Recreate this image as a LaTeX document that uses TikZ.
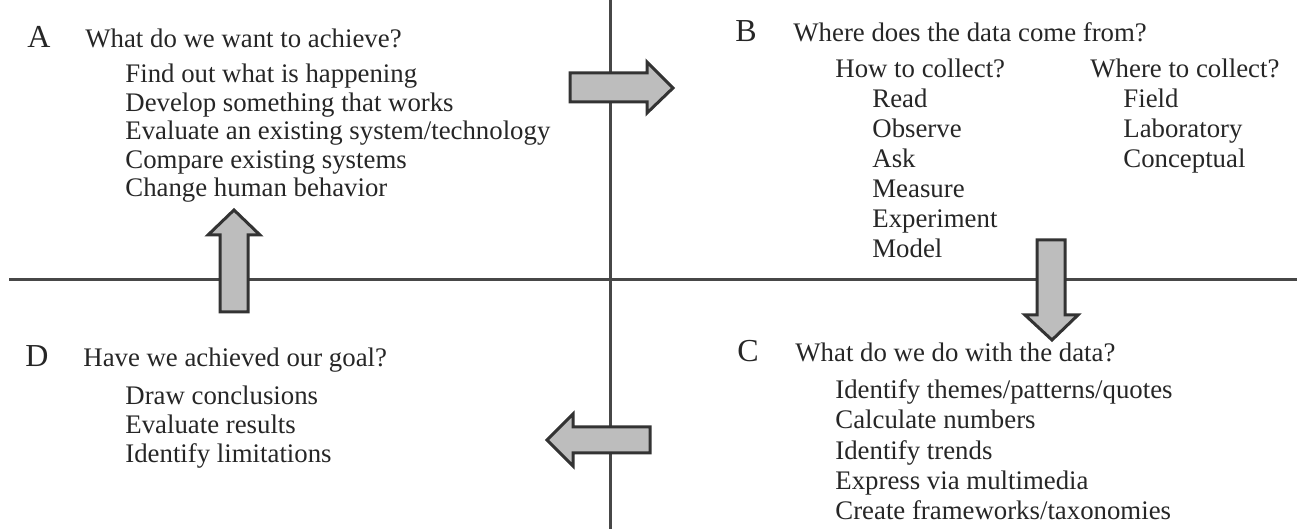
\documentclass[tikz,border=0pt]{standalone}
\usepackage{fontspec}
\setmainfont{Liberation Serif}
\usetikzlibrary{positioning}
\tikzset{marke/.style={anchor=base west, inner sep=0, font=\fontsize{16}{16}\selectfont},
	frage/.style={anchor=base west, inner sep=0, font=\fontsize{13.4}{14}\selectfont},
	punkt/.style={anchor=base west, inner sep=0, font=\fontsize{13.4}{14}\selectfont},
	achse/.style={line width=1.5pt, draw=black!72},
	pfeil/.style={line width=1.5pt, draw=black!80, fill=gray!52, line join=miter} }

\begin{document}
\begin{tikzpicture}[x=0.5pt, y=-0.5pt, text=black!85]
  \useasboundingbox (0,0) rectangle (1297,529);

  % Achsen
  \coordinate (oben) at (610,0);
  \coordinate (unten) at (610,529);
  \coordinate (links) at (9,280);
  \coordinate (rechts) at (1297,280);
  \draw [achse] (oben) -- (unten);
  \draw [achse] (links) -- (rechts);

  % Pfeile zwischen den Feldern
  \draw [pfeil] (570,73) -- (647,73) -- (647,62) -- (673,88) -- (647,113) -- (647,102) -- (570,102) -- cycle;
  \draw [pfeil] (1037,240) -- (1065,240) -- (1065,315) -- (1078,315) -- (1052,340) -- (1025,315) -- (1037,315) -- cycle;
  \draw [pfeil] (650,427) -- (573,427) -- (573,414) -- (547,440) -- (573,466) -- (573,453) -- (650,453) -- cycle;
  \draw [pfeil] (220,312) -- (220,235) -- (208,235) -- (234,210) -- (260,235) -- (248,235) -- (248,312) -- cycle;

  % A
  \node (A) [marke] at (27,48) {A};
  \node (fa) [frage] at (85,48) {What do we want to achieve?};
  \node (a1) [punkt, below right=17.5pt and 20pt of fa.base west, anchor=base west] {Find out what is happening};
  \node (a2) [punkt, below=14.25pt of a1.base west, anchor=base west] {Develop something that works};
  \node (a3) [punkt, below=14.25pt of a2.base west, anchor=base west] {Evaluate an existing system/technology};
  \node (a4) [punkt, below=14.25pt of a3.base west, anchor=base west] {Compare existing systems};
  \node (a5) [punkt, below=14.25pt of a4.base west, anchor=base west] {Change human behavior};

  % B
  \node (B) [marke] at (735,42) {B};
  \node (fb) [frage] at (793,42) {Where does the data come from?};
  \node (wie) [punkt, below right=18pt and 21pt of fb.base west, anchor=base west] {How to collect?};
  \node (b1) [punkt, below right=15pt and 18.5pt of wie.base west, anchor=base west] {Read};
  \node (b2) [punkt, below=15pt of b1.base west, anchor=base west] {Observe};
  \node (b3) [punkt, below=15pt of b2.base west, anchor=base west] {Ask};
  \node (b4) [punkt, below=15pt of b3.base west, anchor=base west] {Measure};
  \node (b5) [punkt, below=15pt of b4.base west, anchor=base west] {Experiment};
  \node (b6) [punkt, below=15pt of b5.base west, anchor=base west] {Model};
  \node (wo) [punkt] at (1090,78) {Where to collect?};
  \node (o1) [punkt, below right=15pt and 16.5pt of wo.base west, anchor=base west] {Field};
  \node (o2) [punkt, below=15pt of o1.base west, anchor=base west] {Laboratory};
  \node (o3) [punkt, below=15pt of o2.base west, anchor=base west] {Conceptual};

  % C
  \node (C) [marke] at (737,362) {C};
  \node (fc) [frage] at (795,362) {What do we do with the data?};
  \node (c1) [punkt, below right=18.5pt and 20pt of fc.base west, anchor=base west] {Identify themes/patterns/quotes};
  \node (c2) [punkt, below=15pt of c1.base west, anchor=base west] {Calculate numbers};
  \node (c3) [punkt, below=15pt of c2.base west, anchor=base west] {Identify trends};
  \node (c4) [punkt, below=15pt of c3.base west, anchor=base west] {Express via multimedia};
  \node (c5) [punkt, below=15pt of c4.base west, anchor=base west] {Create frameworks/taxonomies};

  % D
  \node (D) [marke] at (25,367) {D};
  \node (fd) [frage] at (83,367) {Have we achieved our goal?};
  \node (d1) [punkt, below right=19pt and 21pt of fd.base west, anchor=base west] {Draw conclusions};
  \node (d2) [punkt, below=14.25pt of d1.base west, anchor=base west] {Evaluate results};
  \node (d3) [punkt, below=14.25pt of d2.base west, anchor=base west] {Identify limitations};
\end{tikzpicture}
\end{document}
